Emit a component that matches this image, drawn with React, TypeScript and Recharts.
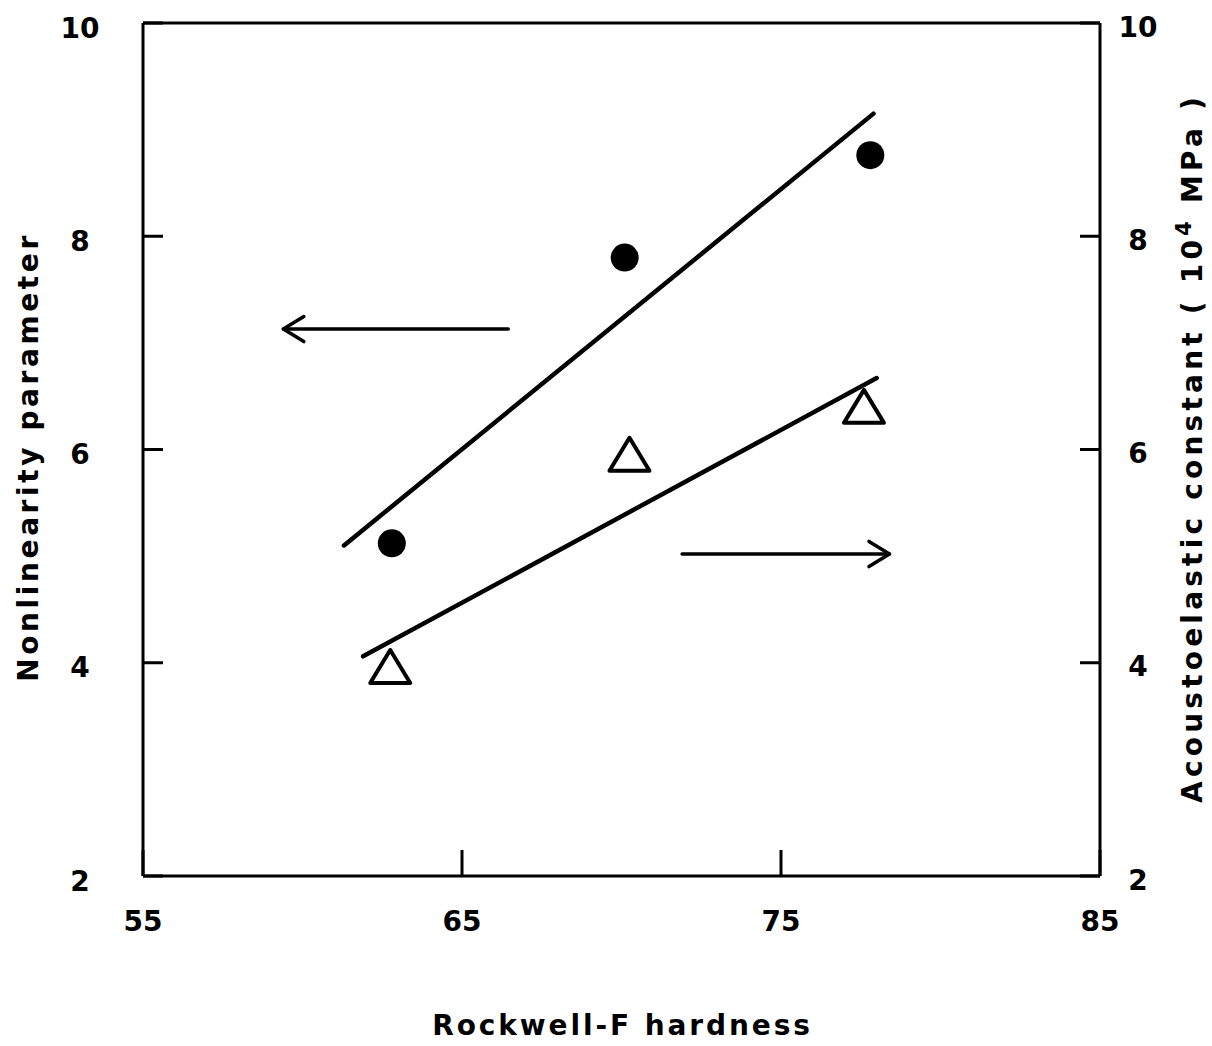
import React from "react";
import {
  ComposedChart,
  Scatter,
  XAxis,
  YAxis,
  ReferenceLine,
  Label,
} from "recharts";

const hardnessCircle = [62.8, 70.1, 77.8];
const nonlinearity = [5.12, 7.8, 8.76];

const hardnessTriangle = [62.75, 70.25, 77.6];
const acoustoelastic = [3.96, 5.95, 6.4];

// fitted straight lines (end points)
const upperFitX = [61.3, 77.9];
const upperFitY = [5.1, 9.15];
const lowerFitX = [61.9, 78.0];
const lowerFitY = [4.06, 6.67];

// arrows pointing to the axis each series belongs to
const leftArrowX = [66.45, 59.4];
const leftArrowY = [7.13, 7.13];
const rightArrowX = [71.9, 78.4];
const rightArrowY = [5.02, 5.02];

const xTicks = [55, 65, 75, 85];
const yTicks = [2, 4, 6, 8, 10];

const FONT = "'DejaVu Sans', sans-serif";
const INK = "#000";

const circleData = hardnessCircle.map((x, i) => ({ x, y: nonlinearity[i] }));
const triangleData = hardnessTriangle.map((x, i) => ({ x, y: acoustoelastic[i] }));
const upperFit = upperFitX.map((x, i) => ({ x, y: upperFitY[i] }));
const lowerFit = lowerFitX.map((x, i) => ({ x, y: lowerFitY[i] }));

const Dot = ({ cx, cy }: any) => <circle cx={cx} cy={cy} r={14} fill={INK} />;

const Triangle = ({ cx, cy }: any) => (
  <path
    d={`M${cx},${cy - 17} L${cx + 20},${cy + 16} L${cx - 20},${cy + 16} Z`}
    fill="#fff"
    stroke={INK}
    strokeWidth={4}
    strokeLinejoin="round"
  />
);

const NoDot = () => <g />;

const Arrow = (props: any) => {
  const { x1, y1, x2, y2 } = props;
  const ang = Math.atan2(y2 - y1, x2 - x1);
  const len = 24;
  const spread = 0.55;
  const ax = x2 - len * Math.cos(ang - spread);
  const ay = y2 - len * Math.sin(ang - spread);
  const bx = x2 - len * Math.cos(ang + spread);
  const by = y2 - len * Math.sin(ang + spread);
  return (
    <g stroke={INK} strokeWidth={3.5} strokeLinecap="round" fill="none">
      <line x1={x1} y1={y1} x2={x2} y2={y2} />
      <polyline points={`${ax},${ay} ${x2},${y2} ${bx},${by}`} strokeLinejoin="round" />
    </g>
  );
};

const labelStyle = {
  fontFamily: FONT,
  fontWeight: "bold" as const,
  fontSize: 28,
  fill: INK,
};

const LeftTick = ({ x, y, payload }: any) => (
  <g>
    <line x1={x} x2={x + 20} y1={y} y2={y} stroke={INK} strokeWidth={3} />
    <text x={x - 63} y={y + 5} textAnchor="middle" dominantBaseline="central" {...labelStyle}>
      {payload.value}
    </text>
  </g>
);

const RightTick = ({ x, y, payload }: any) => (
  <g>
    <line x1={x} x2={x - 20} y1={y} y2={y} stroke={INK} strokeWidth={3} />
    <text x={x + 38} y={y + 4} textAnchor="middle" dominantBaseline="central" {...labelStyle}>
      {payload.value}
    </text>
  </g>
);

const BottomTick = ({ x, y, payload }: any) => (
  <g>
    <line x1={x} x2={x} y1={y} y2={y - 26} stroke={INK} strokeWidth={3} />
    <text x={x} y={y + 45} textAnchor="middle" dominantBaseline="central" {...labelStyle}>
      {payload.value}
    </text>
  </g>
);

const XTitle = ({ viewBox }: any) => (
  <text
    x={viewBox.x + viewBox.width / 2 + 1}
    y={1035}
    textAnchor="middle"
    letterSpacing={2.9}
    {...labelStyle}
  >
    Rockwell-F hardness
  </text>
);

const LeftTitle = () => (
  <text
    transform="translate(38,457) rotate(-90)"
    textAnchor="middle"
    letterSpacing={3.6}
    {...labelStyle}
  >
    Nonlinearity parameter
  </text>
);

const RightTitle = () => (
  <text
    transform="translate(1202,448) rotate(-90)"
    textAnchor="middle"
    letterSpacing={4.2}
    {...labelStyle}
  >
    <tspan>Acoustoelastic constant ( 10</tspan>
    <tspan dy={-11} fontSize={21}>4</tspan>
    <tspan dy={11}> MPa )</tspan>
  </text>
);

export default function App() {
  return (
    <div style={{ position: "absolute", left: 0, top: 0, background: "#fff" }}>
      <ComposedChart
        width={1212}
        height={1046}
        margin={{ top: 23, right: 32, bottom: 110, left: 43 }}
      >
        <XAxis
          xAxisId="main"
          dataKey="x"
          type="number"
          domain={[55, 85]}
          ticks={xTicks}
          allowDataOverflow
          height={60}
          tickSize={0}
          tickMargin={0}
          tickLine={false}
          tick={<BottomTick />}
          axisLine={{ stroke: INK, strokeWidth: 3 }}
        >
          <Label content={<XTitle />} />
        </XAxis>
        <YAxis
          yAxisId="left"
          dataKey="y"
          type="number"
          domain={[2, 10]}
          ticks={yTicks}
          allowDataOverflow
          width={100}
          tickSize={0}
          tickMargin={0}
          tickLine={false}
          tick={<LeftTick />}
          axisLine={{ stroke: INK, strokeWidth: 3 }}
        >
          <Label content={<LeftTitle />} />
        </YAxis>
        <YAxis
          yAxisId="right"
          dataKey="y"
          orientation="right"
          type="number"
          domain={[2, 10]}
          ticks={yTicks}
          allowDataOverflow
          width={80}
          tickSize={0}
          tickMargin={0}
          tickLine={false}
          tick={<RightTick />}
          axisLine={{ stroke: INK, strokeWidth: 3 }}
        >
          <Label content={<RightTitle />} />
        </YAxis>

        {/* top frame edge */}
        <ReferenceLine
          xAxisId="main"
          yAxisId="left"
          y={10}
          stroke={INK}
          strokeWidth={3}
        />

        <Scatter
          xAxisId="main"
          yAxisId="left"
          data={upperFit}
          line={{ stroke: INK, strokeWidth: 4.5, strokeLinecap: "round" }}
          shape={<NoDot />}
          isAnimationActive={false}
        />
        <Scatter
          xAxisId="main"
          yAxisId="right"
          data={lowerFit}
          line={{ stroke: INK, strokeWidth: 4.5, strokeLinecap: "round" }}
          shape={<NoDot />}
          isAnimationActive={false}
        />

        <ReferenceLine
          xAxisId="main"
          yAxisId="left"
          segment={leftArrowX.map((x, i) => ({ x, y: leftArrowY[i] }))}
          shape={<Arrow />}
        />
        <ReferenceLine
          xAxisId="main"
          yAxisId="left"
          segment={rightArrowX.map((x, i) => ({ x, y: rightArrowY[i] }))}
          shape={<Arrow />}
        />

        <Scatter
          xAxisId="main"
          yAxisId="left"
          data={circleData}
          shape={<Dot />}
          isAnimationActive={false}
        />
        <Scatter
          xAxisId="main"
          yAxisId="right"
          data={triangleData}
          shape={<Triangle />}
          isAnimationActive={false}
        />
      </ComposedChart>
    </div>
  );
}
